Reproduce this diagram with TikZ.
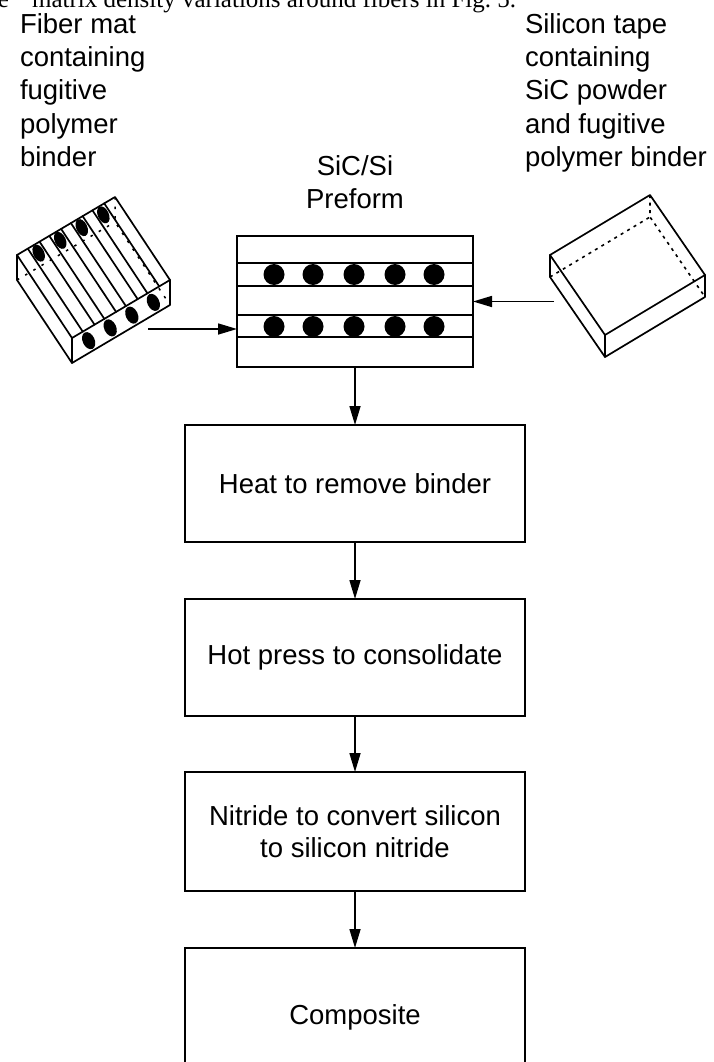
\documentclass[tikz,border=0pt]{standalone}
\usepackage{fontspec}
\setmainfont{Liberation Sans}
\newfontfamily\runonserif{Liberation Serif}
\usetikzlibrary{arrows.meta,calc}

% left-aligned and centred stacks whose baseline is that of the first line
\newcommand\lblstackL[1]{\begin{tabular}[t]{@{}l@{}}#1\end{tabular}}
\newcommand\lblstackC[1]{\begin{tabular}[t]{@{}c@{}}#1\end{tabular}}

\begin{document}
\begin{tikzpicture}[x=1pt,y=-1pt,
  every node/.style={inner sep=0pt, outer sep=0pt},
  lbl/.style={font=\fontsize{27.5}{33.25}\selectfont, anchor=base west},
  clbl/.style={font=\fontsize{27.5}{33.25}\selectfont, anchor=base},
  stepbox/.style={draw, line width=1.8pt, minimum width=340pt, minimum height=117pt,
                  align=center, font=\fontsize{27.5}{32}\selectfont},
  arr/.style={line width=1.6pt, -{Triangle[length=19pt,width=11pt]}},
  edge/.style={line width=1.7pt, line join=round, line cap=round},
  hiddendot/.style={line width=1.6pt, dash pattern=on 3pt off 4.5pt},
  hiddensparse/.style={line width=1.5pt, dash pattern=on 2.5pt off 7pt},
]
\useasboundingbox (0,0) rectangle (713,1062);
\clip (0,0) rectangle (713,1062);

% run-on line of the surrounding page, cut at the top edge
\node[anchor=base west, font=\runonserif\fontsize{25}{25}\selectfont] (runon) at (-2,7.5)
  {e\hspace{23pt}matrix density variations around fibers in Fig.~5.};

% ---------- labels ----------
\node[lbl] (matlbl) at (20,33.5)
  {\lblstackL{Fiber mat\\containing\\fugitive\\polymer\\binder}};
\node[lbl] (tapelbl) at (525,33.5)
  {\lblstackL{Silicon tape\\containing\\SiC powder\\and fugitive\\polymer binder}};
\node[clbl] (prelbl) at (355,175) {\lblstackC{SiC/Si\\Preform}};

% ---------- preform: layered block with two rows of fibres ----------
\node[draw, line width=1.8pt, minimum width=236pt, minimum height=131pt] (preform) at (355,301.5) {};
\foreach \yy in {263,286,315,337}
  \draw[line width=1.5pt] (preform.west |- 0,\yy) -- (preform.east |- 0,\yy);
\foreach \xx in {274,313,354,395,434}{
  \fill (\xx,274.5) circle (10.5);
  \fill (\xx,326.5) circle (10.5);
}

% ---------- fibre mat block ----------
\coordinate (mA) at (17,255);
\coordinate (mB) at (115,197);
\coordinate (mD) at (72,338);
\coordinate (mC) at (170,280);
% hidden edges
\draw[hiddensparse] (mB) -- ($(mB)+(0,25)$) -- ($(mC)+(0,25)$);
\draw[hiddensparse] ($(mA)+(0,25)$) -- ($(mB)+(0,25)$);
% fibres lying on the top face
\foreach \f in {0.11,0.23,0.33,0.45,0.55,0.67,0.77,0.89}
  \draw[edge] ($(mA)!\f!(mB)$) -- ($(mD)!\f!(mC)$);
% fibre ends
\foreach \f in {0.17,0.39,0.61,0.83}{
  \fill ($(mA)!\f!(mB)+(5,8)$) ellipse [x radius=5.5, y radius=9, rotate=25];
  \fill ($(mD)!\f!(mC)+(0,12.5)$) ellipse [x radius=6, y radius=9, rotate=25];
}
% outline
\draw[edge] (mA) -- (mB) -- (mC) -- (mD) -- cycle;
\draw[edge] (mA) -- ($(mA)+(0,25)$) -- ($(mD)+(0,25)$) -- ($(mC)+(0,25)$) -- (mC);
\draw[edge] (mD) -- ($(mD)+(0,25)$);

% ---------- silicon tape block ----------
\coordinate (tA) at (550,255);
\coordinate (tB) at (650,195);
\coordinate (tC) at (705,275);
\coordinate (tD) at (605,335);
\draw[hiddendot] (tB) -- ($(tB)+(0,22)$) -- ($(tC)+(0,22)$);
\draw[hiddendot] ($(tA)+(0,22)$) -- ($(tB)+(0,22)$);
\draw[edge] (tA) -- (tB) -- (tC) -- (tD) -- cycle;
\draw[edge] (tA) -- ($(tA)+(0,22)$) -- ($(tD)+(0,22)$) -- ($(tC)+(0,22)$) -- (tC);
\draw[edge] (tD) -- ($(tD)+(0,22)$);

% ---------- inputs to the preform ----------
\coordinate (matout) at (148,329);
\coordinate (tapeout) at (554,301.5);
\draw[arr] (matout) -- (matout -| preform.west);
\draw[arr] (tapeout) -- (preform.east);

% ---------- process steps ----------
\node[stepbox] (heat) at (355,483.5) {Heat to remove binder};
\node[stepbox] (press) at (355,657.5) {Hot press to consolidate};
\node[stepbox, minimum height=119pt] (nitride) at (355,831.5)
  {Nitride to convert silicon\\to silicon nitride};
\node[stepbox, minimum height=138pt] (composite) at (355,1017) {Composite};

\draw[arr] (preform.south) -- (heat.north);
\draw[arr] (heat.south) -- (press.north);
\draw[arr] (press.south) -- (nitride.north);
\draw[arr] (nitride.south) -- (composite.north);
\end{tikzpicture}
\end{document}
